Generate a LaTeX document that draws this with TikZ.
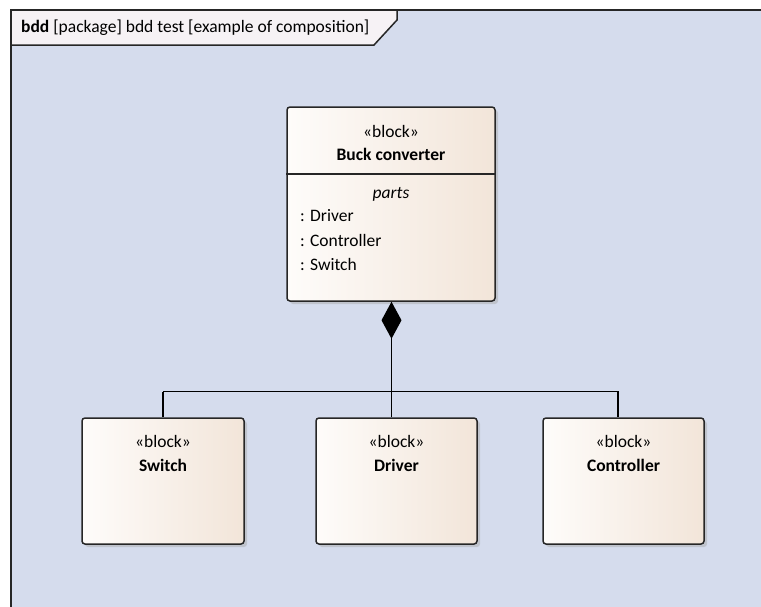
\documentclass[tikz,border=0pt]{standalone}
\usepackage{fontspec}
\setmainfont{Carlito}
\usetikzlibrary{arrows.meta,shadows}
\definecolor{framebg}{HTML}{D5DCED}
\definecolor{tabbg}{HTML}{F6F2F5}
\definecolor{blockl}{HTML}{FEFCFA}
\definecolor{blockr}{HTML}{F2E5D9}
\newcommand{\diagfont}{\fontsize{17.5}{21}\selectfont}
\tikzset{
  blockbox/.style={draw=black!85, line width=1.5pt, rounded corners=3pt,
    left color=blockl, right color=blockr, inner sep=0pt,
    drop shadow={shadow xshift=3pt, shadow yshift=-3pt, fill=black!35, opacity=0.45}},
  stereo/.style={font=\diagfont, inner sep=0pt},
  bname/.style={font=\diagfont\bfseries, inner sep=0pt},
  partline/.style={font=\diagfont, inner sep=0pt, anchor=west},
  link/.style={draw=black, line width=1.4pt},
}
\begin{document}
\begin{tikzpicture}[x=1pt,y=-1pt]
\useasboundingbox (0,0) rectangle (761,606);
% diagram frame
\fill[framebg] (11,10) rectangle (762,607);
\draw[line width=1.6pt, black!85] (11,607) -- (11,10) -- (762,10);
% frame name tab
\draw[line width=1.5pt, black!85, fill=tabbg]
  (11,10) -- (397,10) -- (397,20) -- (374,45) -- (11,45) -- cycle;
\node[anchor=west, inner sep=0pt, font=\diagfont] (title) at (21,28)
  {\textbf{bdd} [package] bdd test [example of composition]};

% composite block
\node[blockbox, minimum width=208, minimum height=194] (bc) at (391,204) {};
\draw[line width=1.4pt, black!85] (bc.west |- 0,174) -- (bc.east |- 0,174);
\node[stereo] (bcs) at (391,131) {«block»};
\node[bname] (bcn) at (391,154) {Buck converter};
\node[stereo, font=\diagfont\itshape] (bcp) at (391,194) {parts};
\node[partline] (p1) at (300,216) {: Driver};
\node[partline] (p2) at (300,240) {: Controller};
\node[partline] (p3) at (300,264) {: Switch};

% part blocks
\node[blockbox, minimum width=162, minimum height=126] (sw) at (163,481) {};
\node[stereo] (sws) at (163,441) {«block»};
\node[bname] (swn) at (163,465) {Switch};

\node[blockbox, minimum width=161, minimum height=126] (dr) at (396.5,481) {};
\node[stereo] (drs) at (396.5,441) {«block»};
\node[bname] (drn) at (396.5,465) {Driver};

\node[blockbox, minimum width=161, minimum height=126] (ct) at (623.5,481) {};
\node[stereo] (cts) at (623.5,441) {«block»};
\node[bname] (ctn) at (623.5,465) {Controller};

% composition tree
\coordinate (junc) at (391.5,391.5);
\draw[link, -{Diamond[length=37pt, width=20pt]}] (junc) -- (junc |- bc.south);
\draw[link] (junc |- dr.north) -- (junc);
\draw[link] (junc -| sw.north) -- (sw.north);
\draw[link] (junc -| sw.north) -- (junc) -- (618,391.5) -- (618,391.5 |- ct.north);
\end{tikzpicture}
\end{document}
